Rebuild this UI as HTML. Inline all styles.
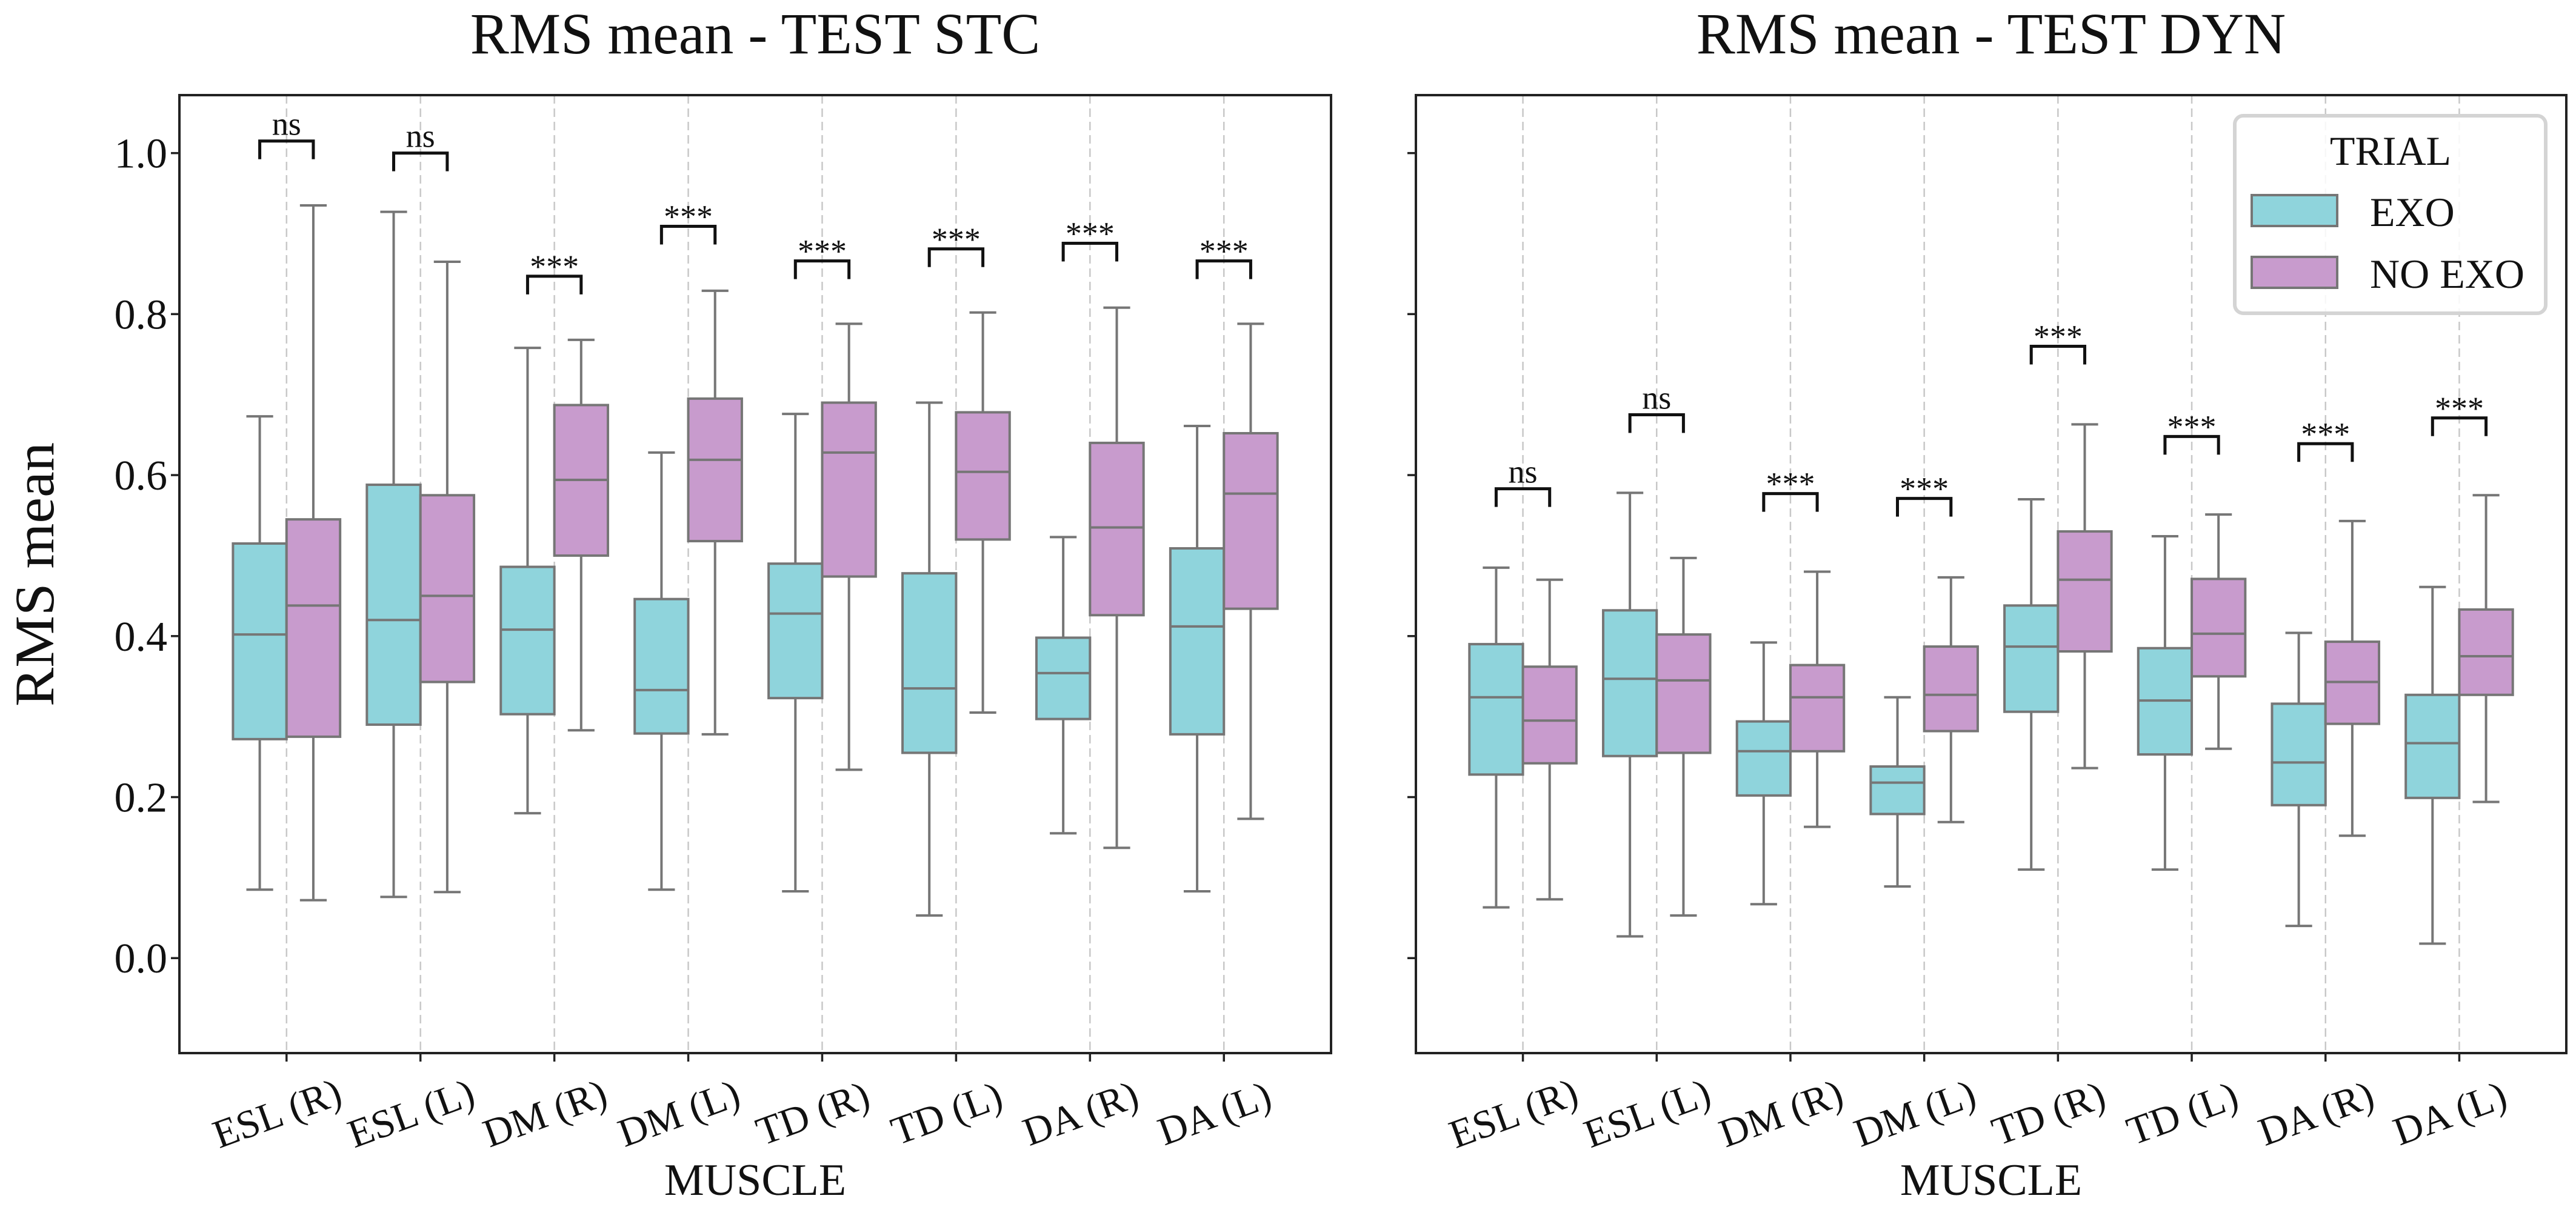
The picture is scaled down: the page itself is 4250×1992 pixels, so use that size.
<!DOCTYPE html>
<html><head><meta charset="utf-8"><style>
html,body{margin:0;padding:0;background:#fff;}
svg{display:block;font-family:"Liberation Serif","DejaVu Serif",serif;}
</style></head><body>
<svg id="chart" xmlns="http://www.w3.org/2000/svg" width="4250" height="1992" viewBox="0 0 4250 1992">
<rect width="4250" height="1992" fill="#fff"/>
<g id="root"></g>
</svg>
<script>
const categories = ["ESL (R)","ESL (L)","DM (R)","DM (L)","TD (R)","TD (L)","DA (R)","DA (L)"];
const hues = ["EXO","NO EXO"];
const yTicks = [0.0,0.2,0.4,0.6,0.8,1.0];
const yTickLabels = ["0.0","0.2","0.4","0.6","0.8","1.0"];
// [low whisker, q1, median, q3, high whisker]
const stcExo = [[0.085,0.272,0.402,0.515,0.673],[0.076,0.290,0.420,0.588,0.927],[0.180,0.303,0.408,0.486,0.758],[0.085,0.279,0.333,0.446,0.628],[0.083,0.323,0.428,0.490,0.676],[0.053,0.255,0.335,0.478,0.690],[0.155,0.297,0.354,0.398,0.523],[0.083,0.278,0.412,0.509,0.661]];
const stcNoExo = [[0.072,0.275,0.438,0.545,0.935],[0.082,0.343,0.450,0.575,0.865],[0.283,0.500,0.594,0.687,0.768],[0.278,0.518,0.619,0.695,0.829],[0.234,0.474,0.628,0.690,0.788],[0.305,0.520,0.604,0.678,0.802],[0.137,0.426,0.535,0.640,0.808],[0.173,0.434,0.577,0.652,0.788]];
const stcSigY = [1.015,1.000,0.847,0.909,0.866,0.881,0.888,0.866];
const stcSigText = ["ns","ns","***","***","***","***","***","***"];
const dynExo = [[0.063,0.228,0.324,0.390,0.485],[0.027,0.251,0.347,0.432,0.578],[0.067,0.202,0.257,0.294,0.392],[0.089,0.179,0.218,0.238,0.324],[0.110,0.306,0.387,0.438,0.570],[0.110,0.253,0.320,0.385,0.524],[0.040,0.190,0.243,0.316,0.404],[0.018,0.199,0.267,0.327,0.461]];
const dynNoExo = [[0.073,0.242,0.295,0.362,0.470],[0.053,0.255,0.345,0.402,0.497],[0.163,0.257,0.324,0.364,0.480],[0.169,0.282,0.327,0.387,0.473],[0.236,0.381,0.470,0.530,0.663],[0.260,0.350,0.403,0.471,0.551],[0.152,0.291,0.343,0.393,0.543],[0.194,0.327,0.375,0.433,0.575]];
const dynSigY = [0.583,0.675,0.577,0.571,0.760,0.648,0.639,0.671];
const dynSigText = ["ns","ns","***","***","***","***","***","***"];

const NS="http://www.w3.org/2000/svg";
const root=document.getElementById('root');
function el(tag,attrs,parent,text){const e=document.createElementNS(NS,tag);for(const k in attrs)e.setAttribute(k,attrs[k]);if(text!==undefined)e.textContent=text;(parent||root).appendChild(e);return e;}

const TOP=157,BOT=1738,YMIN=-0.118,YMAX=1.072;
function yS(v){return BOT-(v-YMIN)/(YMAX-YMIN)*(BOT-TOP);}
const COLORS=["#8fd4dc","#c89bcd"], EDGE="#767676";

function panel(x0,x1,title,exo,noexo,sigY,sigText,showYLabels,key){
  const XMIN=-0.8,XMAX=7.8;
  const xS=v=>x0+(v-XMIN)/(XMAX-XMIN)*(x1-x0);
  const g=el('g',{});
  
  
  // grid
  categories.forEach((c,i)=>{
    const l=el('line',{x1:xS(i),x2:xS(i),y1:TOP,y2:BOT,stroke:'#c8c8c8','stroke-width':2.5,'stroke-dasharray':'14,8'},g);
    
    
  });
  const series=[exo,noexo];
  const bw=0.4;
  series.forEach((ser,h)=>{
    ser.forEach((d,i)=>{
      const cx=xS(i+(h===0?-0.2:0.2));
      const hw=(xS(bw)-xS(0))/2;
      const bg=el('g',{},g);
      
      
      el('line',{x1:cx,x2:cx,y1:yS(d[0]),y2:yS(d[1]),stroke:EDGE,'stroke-width':4},bg);
      el('line',{x1:cx,x2:cx,y1:yS(d[3]),y2:yS(d[4]),stroke:EDGE,'stroke-width':4},bg);
      el('line',{x1:cx-hw/2,x2:cx+hw/2,y1:yS(d[0]),y2:yS(d[0]),stroke:EDGE,'stroke-width':4},bg);
      el('line',{x1:cx-hw/2,x2:cx+hw/2,y1:yS(d[4]),y2:yS(d[4]),stroke:EDGE,'stroke-width':4},bg);
      el('rect',{x:cx-hw,y:yS(d[3]),width:2*hw,height:yS(d[1])-yS(d[3]),fill:COLORS[h],stroke:EDGE,'stroke-width':4},bg);
      el('line',{x1:cx-hw,x2:cx+hw,y1:yS(d[2]),y2:yS(d[2]),stroke:EDGE,'stroke-width':4},bg);
    });
  });
  // significance
  sigY.forEach((v,i)=>{
    const a=xS(i-0.2),b=xS(i+0.2),y=yS(v);
    const p=el('path',{d:`M${a},${y+30} L${a},${y} L${b},${y} L${b},${y+30}`,fill:'none',stroke:'#111','stroke-width':5},g);
    
    
    const t=el('text',{x:xS(i),y:y-(sigText[i]==='ns'?10:-2),'font-size':54,'text-anchor':'middle',fill:'#111'},g,sigText[i]);
    
    
  });
  // spines
  const fr=el('rect',{x:x0,y:TOP,width:x1-x0,height:BOT-TOP,fill:'none',stroke:'#222','stroke-width':4},g);
  
  
  // y ticks
  yTicks.forEach((v,i)=>{
    el('line',{x1:x0-14,x2:x0,y1:yS(v),y2:yS(v),stroke:'#222','stroke-width':3.5},g);
    if(showYLabels){
      const t=el('text',{x:x0-20,y:yS(v)+24,'font-size':70,'text-anchor':'end',fill:'#111'},g,yTickLabels[i]);
      
      
    }
  });
  // x ticks
  categories.forEach((c,i)=>{
    el('line',{x1:xS(i),x2:xS(i),y1:BOT,y2:BOT+14,stroke:'#222','stroke-width':3.5},g);
    const t=el('text',{x:0,y:0,'font-size':66,'text-anchor':'middle',fill:'#111',transform:`translate(${xS(i)-8},${1858}) rotate(-20)`},g,c);
    
    
  });
  const xl=el('text',{x:(x0+x1)/2,y:1972,'font-size':74,'text-anchor':'middle',fill:'#111'},g,'MUSCLE');
  
  
  const tt=el('text',{x:(x0+x1)/2,y:88,'font-size':96,'text-anchor':'middle',fill:'#111'},g,title);
  
  
}
panel(296,2196,'RMS mean - TEST STC',stcExo,stcNoExo,stcSigY,stcSigText,true,'stc');
panel(2336,4234,'RMS mean - TEST DYN',dynExo,dynNoExo,dynSigY,dynSigText,false,'dyn');

const yl=el('text',{x:0,y:0,'font-size':92,'text-anchor':'middle',fill:'#111',transform:'translate(88,948) rotate(-90)',textLength:436,lengthAdjust:'spacingAndGlyphs'},root,'RMS mean');



// legend
const lg=el('g',{});


el('rect',{x:3687,y:191,width:513,height:326,rx:14,fill:'#fff','fill-opacity':0.85,stroke:'#d4d4d4','stroke-width':6},lg);
el('text',{x:3944,y:272,'font-size':68,'text-anchor':'middle',fill:'#111'},lg,'TRIAL');
hues.forEach((h,i)=>{
  const y0=322+i*102;
  const r=el('rect',{x:3715,y:y0,width:141,height:51,fill:COLORS[i],stroke:EDGE,'stroke-width':4},lg);
  
  
  const t=el('text',{x:3910,y:y0+51,'font-size':68,fill:'#111'},lg,h);
  
  
});
</script>
</body></html>
